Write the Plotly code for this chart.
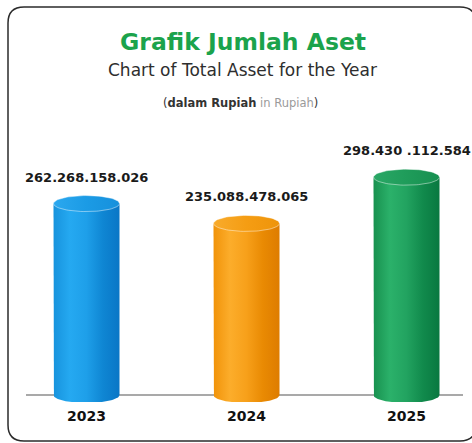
import numpy as np
import plotly.graph_objects as go

# Total assets per year (Rupiah)
years = ["2023", "2024", "2025"]
assets = [262268158026, 235088478065, 298430112584]
value_labels = ["262.268.158.026", "235.088.478.065", "298.430 .112.584"]

# Cylinder colours: side gradient stops and top face
side_colors = [
    ["#1793dd", "#25a9f1", "#1e9fe9", "#0f86d3", "#0a76c6"],
    ["#f19309", "#fcad2b", "#f7a01a", "#e98a03", "#de7c00"],
    ["#18914f", "#2bb16a", "#22a360", "#118a4c", "#097840"],
]
top_colors = [
    ["#2ba8ef", "#1b9be5", "#1690dc"],
    ["#f8ab2c", "#f59d13", "#ee940a"],
    ["#2aa866", "#1f9c5a", "#178f50"],
]

W, H = 472, 443
MARGIN_B = 41
PLOT_H = H - MARGIN_B

# axis scales
X_PX = 160.0            # pixels per category step
X_OFF = 86.5            # pixel position of the first category
Y_PER_PX = 1.37e9       # Rupiah per pixel
BASE_PX = 395           # pixel row of the baseline
x_range = [-X_OFF / X_PX, (W - X_OFF) / X_PX]
y_range = [-(PLOT_H - BASE_PX) * Y_PER_PX, BASE_PX * Y_PER_PX]

HALF_W = 33 / X_PX      # cylinder half width (x units)
RY = 8 * Y_PER_PX       # ellipse vertical radius (y units)

fig = go.Figure()

for i, (v, sc, tc) in enumerate(zip(assets, side_colors, top_colors)):
    # body: straight sides with a rounded bottom
    th = np.linspace(np.pi, 2 * np.pi, 40)
    bx = list(i + HALF_W * np.cos(th))
    by = list(RY * np.sin(th))
    body_x = [i - HALF_W] + bx + [i + HALF_W, i - HALF_W]
    body_y = [v] + by + [v, v]
    n = len(sc)
    fig.add_trace(go.Scatter(
        x=body_x, y=body_y, mode="lines", fill="toself",
        line=dict(width=0, color="rgba(0,0,0,0)"),
        fillgradient=dict(type="horizontal",
                          colorscale=[[k / (n - 1), c] for k, c in enumerate(sc)]),
        hoverinfo="skip", showlegend=False,
    ))
    # top face
    th2 = np.linspace(0, 2 * np.pi, 80)
    fig.add_trace(go.Scatter(
        x=list(i + HALF_W * np.cos(th2)), y=list(v + RY * np.sin(th2)),
        mode="lines", fill="toself",
        line=dict(width=1, color="rgba(255,255,255,0.45)"),
        fillgradient=dict(type="horizontal",
                          colorscale=[[0, tc[0]], [0.5, tc[1]], [1, tc[2]]]),
        hoverinfo="skip", showlegend=False,
    ))
    # value label above the cylinder
    fig.add_annotation(
        x=i, y=v, xref="x", yref="y", text=value_labels[i], showarrow=False,
        yanchor="bottom", yshift=17,
        font=dict(family="DejaVu Sans", size=13, color="#1a1a1a", weight="bold"),
    )

def px(xp):
    return xp / W

def py(yp):
    return 1 - yp / PLOT_H

# rounded frame around the chart
L, R, T, B, RAD = 8, 476, 7, 441, 16
frame = (
    f"M {px(L)},{py(T + RAD)} "
    f"Q {px(L)},{py(T)} {px(L + RAD)},{py(T)} "
    f"L {px(R - RAD)},{py(T)} "
    f"Q {px(R)},{py(T)} {px(R)},{py(T + RAD)} "
    f"L {px(R)},{py(B - RAD)} "
    f"Q {px(R)},{py(B)} {px(R - RAD)},{py(B)} "
    f"L {px(L + RAD)},{py(B)} "
    f"Q {px(L)},{py(B)} {px(L)},{py(B - RAD)} Z"
)
fig.add_shape(type="path", path=frame, xref="paper", yref="paper",
              line=dict(color="#2b2b2b", width=1.5), layer="above")

# baseline
fig.add_shape(type="line", xref="paper", yref="y", x0=px(26), x1=px(463),
              y0=0, y1=0, line=dict(color="#8c8c8c", width=1.5), layer="below")

# titles
fig.add_annotation(x=px(243), y=py(42), xref="paper", yref="paper",
                   xanchor="center", yanchor="middle",
                   text="Grafik Jumlah Aset", showarrow=False,
                   font=dict(family="DejaVu Sans", size=23.5, color="#1ba34c", weight="bold"))
fig.add_annotation(x=px(243), y=py(70), xref="paper", yref="paper",
                   xanchor="center", yanchor="middle",
                   text="Chart of Total Asset for the Year", showarrow=False,
                   font=dict(family="DejaVu Sans", size=17, color="#2e2e2e"))
fig.add_annotation(x=px(240), y=py(103), xref="paper", yref="paper",
                   xanchor="center", yanchor="middle",
                   text="(<b>dalam Rupiah</b> <span style='color:#9a9a9a'>in Rupiah</span>)",
                   showarrow=False,
                   font=dict(family="DejaVu Sans", size=11.5, color="#333333"))

fig.update_layout(
    width=W, height=H,
    margin=dict(l=0, r=0, t=0, b=MARGIN_B),
    paper_bgcolor="white", plot_bgcolor="white",
    xaxis=dict(range=x_range, tickvals=[0, 1, 2], ticktext=years,
               showgrid=False, zeroline=False, showline=False, ticks="",
               ticklabelstandoff=4,
               tickfont=dict(family="DejaVu Sans", size=14, color="#111111", weight="bold"),
               fixedrange=True),
    yaxis=dict(range=y_range, visible=False, fixedrange=True),
    showlegend=False,
)

fig.write_html("out.html")
